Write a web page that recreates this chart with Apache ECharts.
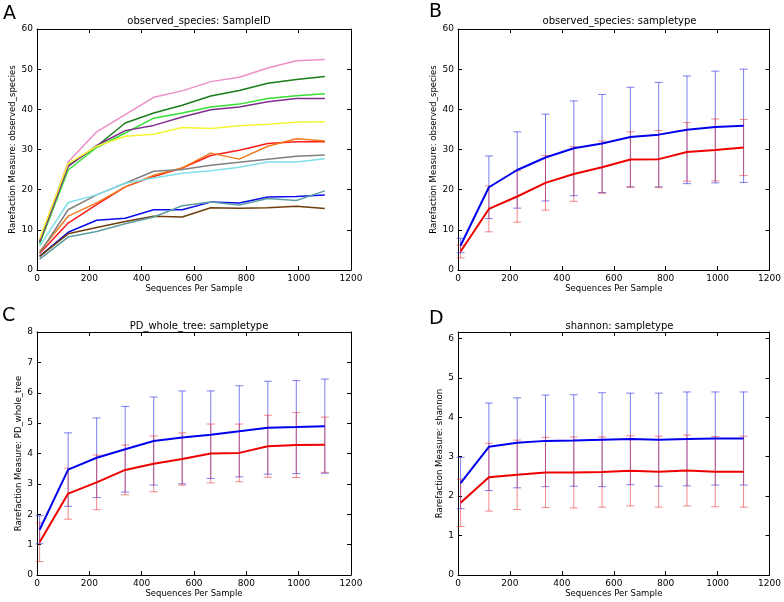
<!DOCTYPE html>
<html><head><meta charset="utf-8">
<script src="https://cdn.jsdelivr.net/npm/echarts@6/dist/echarts.min.js"></script>
<style>html,body{margin:0;padding:0;background:#fff}#c{width:784px;height:602px}</style>
</head><body><div id="c"></div>
<script>
// ---- data ----
const seqs = [10,119,228,337,446,555,664,773,882,991,1100];
const xTicks = [0,200,400,600,800,1000,1200];

// Panel A: observed_species by SampleID
const sampleNames = ['pink','darkgreen','green','purple','yellow','red','orange','gray','cyan','blue','brown','teal'];
const sPink      = [7.2, 26.9, 34.4, 38.7, 43.0, 44.6, 46.9, 48.0, 50.3, 52.1, 52.4];
const sDarkGreen = [6.8, 26.0, 30.8, 36.6, 39.1, 41.0, 43.3, 44.7, 46.5, 47.4, 48.2];
const sGreen     = [6.5, 24.9, 30.5, 34.1, 37.8, 39.1, 40.6, 41.3, 42.7, 43.4, 43.9];
const sPurple    = [7.0, 25.8, 31.0, 34.7, 36.0, 38.1, 39.9, 40.6, 41.9, 42.7, 42.7];
const sYellow    = [7.8, 26.5, 30.8, 33.3, 33.8, 35.5, 35.2, 35.9, 36.3, 36.8, 36.9];
const sRed       = [4.1, 11.7, 16.3, 20.7, 23.3, 25.4, 28.5, 29.8, 31.5, 31.9, 31.9];
const sOrange    = [4.6, 13.4, 16.7, 20.7, 23.6, 25.4, 29.1, 27.6, 30.8, 32.7, 32.1];
const sGray      = [4.2, 15.0, 18.7, 21.6, 24.6, 25.0, 26.1, 26.8, 27.6, 28.3, 28.6];
const sCyan      = [5.9, 16.8, 18.7, 21.6, 22.9, 24.1, 24.7, 25.6, 26.9, 26.9, 27.7];
const sBlue      = [3.4, 9.4, 12.4, 12.9, 15.0, 15.0, 16.9, 16.7, 18.2, 18.3, 18.7];
const sBrown     = [3.4, 9.0, 10.6, 12.1, 13.4, 13.2, 15.5, 15.4, 15.5, 15.9, 15.3];
const sTeal      = [2.7, 8.2, 9.6, 11.5, 13.2, 16.0, 16.9, 16.2, 17.8, 17.3, 19.7];
const sampleSeries = [sPink,sDarkGreen,sGreen,sPurple,sYellow,sRed,sOrange,sGray,sCyan,sBlue,sBrown,sTeal];

// Panel B: observed_species by sampletype (mean, std)
const obsBlueMean = [6.1, 20.6, 24.9, 28.0, 30.3, 31.5, 33.1, 33.7, 34.9, 35.6, 35.9];
const obsBlueStd  = [1.8, 7.8, 9.5, 10.8, 11.8, 12.2, 12.4, 13.0, 13.4, 13.9, 14.1];
const obsRedMean  = [4.6, 15.2, 18.3, 21.7, 23.9, 25.6, 27.5, 27.6, 29.4, 29.9, 30.5];
const obsRedStd   = [1.6, 5.7, 6.4, 6.8, 6.8, 6.5, 6.9, 7.1, 7.3, 7.7, 7.0];

// Panel C: PD_whole_tree
const pdBlueMean = [1.49, 3.47, 3.86, 4.14, 4.41, 4.53, 4.62, 4.73, 4.85, 4.87, 4.90];
const pdBlueStd  = [0.46, 1.21, 1.31, 1.41, 1.45, 1.53, 1.44, 1.50, 1.53, 1.53, 1.55];
const pdRedMean  = [1.08, 2.68, 3.05, 3.46, 3.66, 3.82, 4.00, 4.02, 4.24, 4.28, 4.29];
const pdRedStd   = [0.64, 0.84, 0.90, 0.82, 0.92, 0.86, 0.97, 0.95, 1.02, 1.07, 0.91];

// Panel D: shannon
const shBlueMean = [2.33, 3.25, 3.35, 3.40, 3.41, 3.43, 3.45, 3.43, 3.45, 3.46, 3.46];
const shBlueStd  = [0.65, 1.11, 1.14, 1.16, 1.16, 1.19, 1.16, 1.18, 1.19, 1.18, 1.18];
const shRedMean  = [1.83, 2.48, 2.54, 2.60, 2.60, 2.61, 2.64, 2.62, 2.65, 2.62, 2.62];
const shRedStd   = [0.60, 0.86, 0.88, 0.89, 0.90, 0.89, 0.89, 0.90, 0.90, 0.89, 0.90];

// ---- styling ----
const sampleColors = ['#ec8fc6','#1a7d1a','#33e033','#7d2e8c','#f5f530','#ff1a1a','#f07a1e','#808080','#80e0ea','#0a0af0','#6e3e0c','#5f9ea0'];
const FONT = 'DejaVu Sans';
const panels = [
  {letter:'A', title:'observed_species: SampleID', yname:'Rarefaction Measure: observed_species', left:37, top:29, width:314, height:241, ymax:60, yint:10, nameGap:10, tOff:18, lx:3, ly:5},
  {letter:'B', title:'observed_species: sampletype', yname:'Rarefaction Measure: observed_species', left:458, top:29, width:313, height:241, ymax:60, yint:10, nameGap:12, tOff:18, lx:429, ly:3},
  {letter:'C', title:'PD_whole_tree: sampletype', yname:'Rarefaction Measure: PD_whole_tree', left:37, top:332, width:314, height:243, ymax:8, yint:1, nameGap:5, tOff:16, lx:2, ly:307},
  {letter:'D', title:'shannon: sampletype', yname:'Rarefaction Measure: shannon', left:458, top:332, width:313, height:243, ymax:6.16, yint:1, nameGap:4, tOff:16, lx:429, ly:310}
];

const grid=[], xAxis=[], yAxis=[], title=[], series=[], graphic=[];
const lineC = '#000';
panels.forEach((p,i)=>{
  grid.push({left:p.left, top:p.top, width:p.width, height:p.height, containLabel:false});
  const base = {type:'value', gridIndex:i, splitLine:{show:false},
    axisLine:{show:true, onZero:false, lineStyle:{color:lineC, width:1}},
    axisTick:{show:true, inside:true, length:4, lineStyle:{color:lineC}}};
  xAxis.push(Object.assign({}, base, {position:'bottom', min:0, max:1200, interval:200,
    name:'Sequences Per Sample', nameLocation:'middle', nameGap:14,
    nameTextStyle:{fontFamily:FONT, fontSize:8.5, color:'#000'},
    axisLabel:{margin:4, fontFamily:FONT, fontSize:9, color:'#000', formatter:v=>String(v)}}));
  xAxis.push(Object.assign({}, base, {position:'top', min:0, max:1200, interval:200, axisLabel:{show:false}}));
  yAxis.push(Object.assign({}, base, {position:'left', min:0, max:p.ymax, interval:p.yint,
    name:p.yname, nameLocation:'middle', nameGap:p.nameGap,
    nameTextStyle:{fontFamily:FONT, fontSize:8.5, color:'#000'},
    axisLabel:{margin:4, fontFamily:FONT, fontSize:9, color:'#000',
      formatter:v=> (Math.abs(v/p.yint - Math.round(v/p.yint))<1e-6 ? String(v) : '')}}));
  yAxis.push(Object.assign({}, base, {position:'right', min:0, max:p.ymax, interval:p.yint, axisLabel:{show:false}}));
  title.push({text:p.title, left:p.left+p.width/2, top:p.top-p.tOff, textAlign:'center',
    textStyle:{fontFamily:FONT, fontSize:10, fontWeight:'normal', color:'#000'}});
  graphic.push({type:'text', left:p.lx, top:p.ly,
    style:{text:p.letter, fontFamily:FONT, fontSize:19, fill:'#000'}});
});

// Panel A lines
sampleSeries.forEach((arr,k)=>{
  series.push({type:'line', name:sampleNames[k], xAxisIndex:0, yAxisIndex:0,
    data: seqs.map((s,j)=>[s,arr[j]]), showSymbol:false, symbol:'none',
    lineStyle:{color:sampleColors[k], width:1.5}, itemStyle:{color:sampleColors[k]}, animation:false});
});

function errSeries(pi, mean, std, color, ecolor){
  const ax = pi*2;
  series.push({type:'custom', xAxisIndex:ax, yAxisIndex:ax, animation:false, z:2,
    data: seqs.map((s,j)=>[s, mean[j]-std[j], mean[j]+std[j]]),
    renderItem:(params, api)=>{
      const lo = api.coord([api.value(0), api.value(1)]);
      const hi = api.coord([api.value(0), api.value(2)]);
      const st = {stroke:ecolor, lineWidth:1};
      return {type:'group', children:[
        {type:'line', shape:{x1:lo[0],y1:lo[1],x2:hi[0],y2:hi[1]}, style:st},
        {type:'line', shape:{x1:lo[0]-4,y1:lo[1],x2:lo[0]+4,y2:lo[1]}, style:st},
        {type:'line', shape:{x1:hi[0]-4,y1:hi[1],x2:hi[0]+4,y2:hi[1]}, style:st}
      ]};
    }});
  series.push({type:'line', xAxisIndex:ax, yAxisIndex:ax, animation:false, z:3,
    data: seqs.map((s,j)=>[s, mean[j]]), symbol:'none',
    lineStyle:{color:color, width:2}, itemStyle:{color:color}});
}
const BLUE='#0000ee', RED='#ee0000', BLUEA='rgba(40,40,230,0.6)', REDA='rgba(235,40,40,0.55)';
errSeries(1, obsBlueMean, obsBlueStd, BLUE, BLUEA);
errSeries(1, obsRedMean, obsRedStd, RED, REDA);
errSeries(2, pdBlueMean, pdBlueStd, BLUE, BLUEA);
errSeries(2, pdRedMean, pdRedStd, RED, REDA);
errSeries(3, shBlueMean, shBlueStd, BLUE, BLUEA);
errSeries(3, shRedMean, shRedStd, RED, REDA);

const chart = echarts.init(document.getElementById('c'), null, {renderer:'canvas'});
chart.setOption({animation:false, backgroundColor:'#fff', grid, xAxis, yAxis, title, series, graphic});
</script></body></html>
